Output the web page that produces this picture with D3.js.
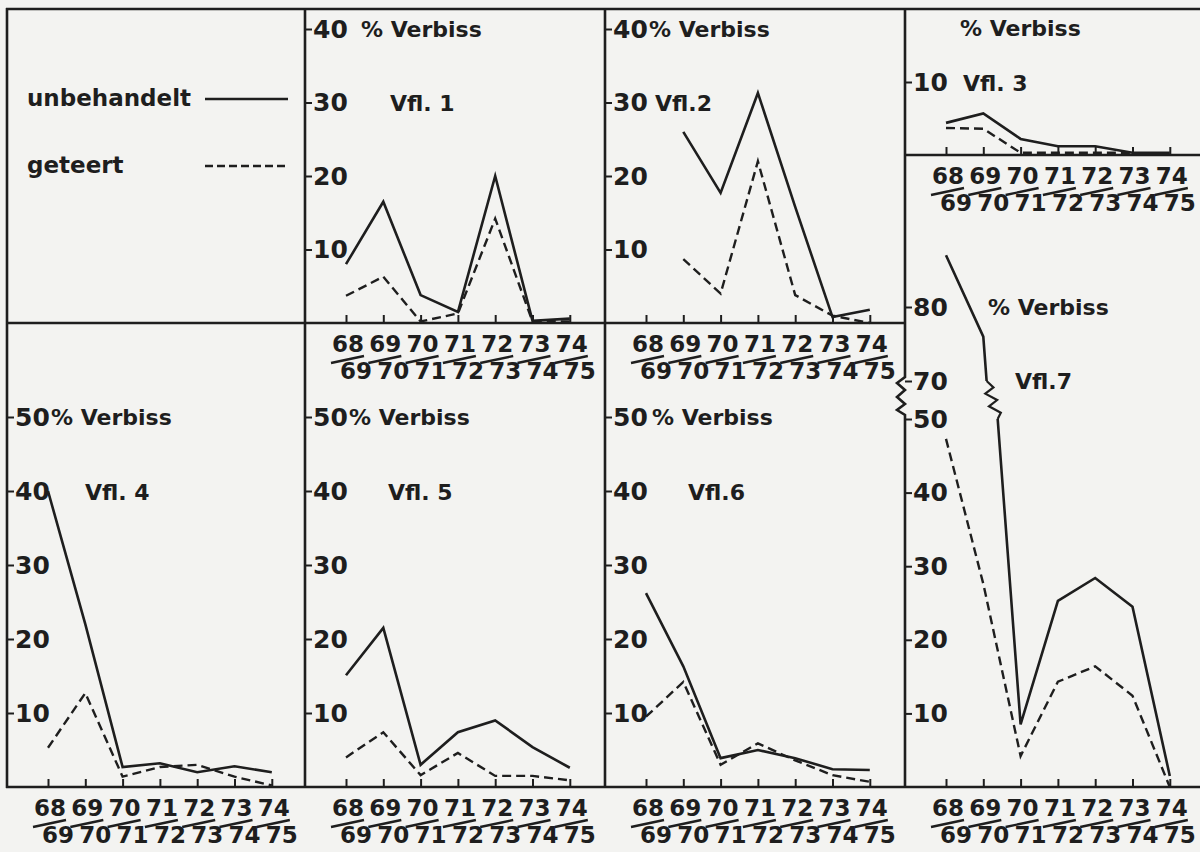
<!DOCTYPE html>
<html><head><meta charset="utf-8">
<script src="https://cdn.jsdelivr.net/npm/d3@7"></script>
<style>
body{margin:0;background:#f3f3f1}
svg{display:block}
text{font-family:"DejaVu Sans",sans-serif;font-weight:bold;fill:#1e1e1e}
</style>
</head><body>
<svg id="c" width="1200" height="852"></svg>
<script>
// ---------- data ----------
const categories = ["68/69","69/70","70/71","71/72","72/73","73/74","74/75"];
const topLabels = ["68","69","70","71","72","73","74"];
const bottomLabels = ["69","70","71","72","73","74","75"];
const seriesNames = ["unbehandelt","geteert"];

const vfl1Unbehandelt = [8, 16.5, 3.8, 1.5, 20, 0.3, 0.6];
const vfl1Geteert     = [3.7, 6.3, 0.2, 1.3, 14.2, 0.2, 0.2];
const vfl2Unbehandelt = [null, 26, 17.7, 31.3, 15.8, 0.8, 1.8];
const vfl2Geteert     = [null, 8.7, 4, 22, 3.8, 1, 0];
const vfl3Unbehandelt = [4.4, 5.7, 2.2, 1.2, 1.2, 0.3, 0.3];
const vfl3Geteert     = [3.7, 3.6, 0.3, 0.3, 0.3, 0.3, null];
const vfl4Unbehandelt = [40, 22, 2.7, 3.2, 2, 2.8, 2];
const vfl4Geteert     = [5.3, 12.7, 1.4, 2.7, 3, 1.4, 0.2];
const vfl5Unbehandelt = [15.1, 21.5, 3, 7.4, 9, 5.4, 2.6];
const vfl5Geteert     = [4, 7.4, 1.6, 4.6, 1.5, 1.5, 0.9];
const vfl6Unbehandelt = [26.2, 16.3, 3.9, 5, 3.9, 2.4, 2.3];
const vfl6Geteert     = [9.5, 14.2, 3, 5.9, 3.6, 1.6, 0.7];
const vfl7Unbehandelt = [87, 76, 8.5, 25.3, 28.4, 24.5, 1.5];
const vfl7Geteert     = [47.3, 27.6, 4.2, 14.3, 16.4, 12.4, 0];

const ticksTop = [10, 20, 30, 40];
const ticksVfl3 = [10];
const ticksBottom = [10, 20, 30, 40, 50];
const ticksVfl7 = [10, 20, 30, 40, 50, 70, 80];
const breakLow = 50, breakHigh = 70;

// ---------- layout ----------
const panels = [
  {name:"Vfl. 1", un:vfl1Unbehandelt, ge:vfl1Geteert, left:305, base:323, dom:[0,40], rng:[323,29], ticks:ticksTop, verbiss:[361,29], label:[390,103]},
  {name:"Vfl.2", un:vfl2Unbehandelt, ge:vfl2Geteert, left:605, base:323, dom:[0,40], rng:[323,29], ticks:ticksTop, verbiss:[649,29], label:[655,103]},
  {name:"Vfl. 3", un:vfl3Unbehandelt, ge:vfl3Geteert, left:905, base:155, dom:[0,10], rng:[155,82], ticks:ticksVfl3, verbiss:[960,28], label:[963,83]},
  {name:"Vfl. 4", un:vfl4Unbehandelt, ge:vfl4Geteert, left:7, base:787, dom:[0,50], rng:[787,417], ticks:ticksBottom, verbiss:[51,417], label:[85,492]},
  {name:"Vfl. 5", un:vfl5Unbehandelt, ge:vfl5Geteert, left:305, base:787, dom:[0,50], rng:[787,417], ticks:ticksBottom, verbiss:[349,417], label:[388,492]},
  {name:"Vfl.6", un:vfl6Unbehandelt, ge:vfl6Geteert, left:605, base:787, dom:[0,50], rng:[787,417], ticks:ticksBottom, verbiss:[652,417], label:[688,492]},
  {name:"Vfl.7", un:vfl7Unbehandelt, ge:vfl7Geteert, left:905, base:787, dom:[0,breakLow,breakHigh,80], rng:[787,419,381,307], ticks:ticksVfl7, verbiss:[988,307], label:[1015,381], broken:true}
];

const svg = d3.select("#c");
const ink = "#1e1e1e";

// frame
const frame = svg.append("g").attr("stroke", ink).attr("stroke-width", 2.6).attr("fill","none");
frame.append("line").attr("x1",6).attr("x2",1200).attr("y1",9).attr("y2",9);
frame.append("line").attr("x1",7).attr("x2",7).attr("y1",8).attr("y2",788);
frame.append("line").attr("x1",305).attr("x2",305).attr("y1",8).attr("y2",788);
frame.append("line").attr("x1",605).attr("x2",605).attr("y1",8).attr("y2",788);
frame.append("line").attr("x1",6).attr("x2",905).attr("y1",323).attr("y2",323);
frame.append("line").attr("x1",905).attr("x2",1200).attr("y1",155).attr("y2",155);
frame.append("line").attr("x1",6).attr("x2",1200).attr("y1",787).attr("y2",787);

const y7 = d3.scaleLinear().domain(panels[6].dom).range(panels[6].rng);
const yb1 = y7(breakHigh) - 4, yb2 = y7(breakLow) - 4;
frame.append("path").attr("d", d3.line()([[905,8],[905,yb1],[897,yb1+6],[905,yb1+13],[897,yb1+20],[905,yb1+27],[897,yb1+33],[905,yb2],[905,788]]))
  .attr("stroke-linejoin","miter");

// legend
svg.append("text").attr("x",27).attr("y",106).attr("font-size",23).text(seriesNames[0]);
svg.append("text").attr("x",27).attr("y",173).attr("font-size",23).text(seriesNames[1]);
svg.append("line").attr("x1",205).attr("x2",288).attr("y1",99).attr("y2",99).attr("stroke",ink).attr("stroke-width",2.4);
svg.append("line").attr("x1",205).attr("x2",288).attr("y1",166).attr("y2",166).attr("stroke",ink).attr("stroke-width",2.4).attr("stroke-dasharray","8,4");

function zig(a, b) {
  const pts = [];
  const n = 6, amp = 5;
  for (let k = 0; k <= n; k++) {
    const t = k / n;
    const off = (k === 0 || k === n) ? 0 : (k % 2 ? amp : -amp);
    pts.push([a[0] + (b[0]-a[0])*t + off, a[1] + (b[1]-a[1])*t]);
  }
  return pts;
}

panels.forEach(p => {
  const g = svg.append("g");
  const x = d3.scalePoint().domain(categories).range([p.left+41, p.left+41+6*37.3]);
  const y = d3.scaleLinear().domain(p.dom).range(p.rng);

  // y axis ticks + labels
  const ya = g.append("g").attr("transform", `translate(${p.left},0)`)
    .call(d3.axisRight(y).tickValues(p.ticks).tickSize(7).tickPadding(1).tickFormat(d3.format("d")));
  ya.select(".domain").remove();
  ya.selectAll("line").attr("stroke", ink).attr("stroke-width", 2);
  ya.selectAll("text").attr("font-size", 25).attr("fill", ink).style("font-family","DejaVu Sans").style("font-weight","bold");

  // x axis ticks
  const xa = g.append("g").attr("transform", `translate(0,${p.base})`)
    .call(d3.axisTop(x).tickSize(8).tickFormat(""));
  xa.select(".domain").remove();
  xa.selectAll("line").attr("stroke", ink).attr("stroke-width", 2);

  // fraction labels
  categories.forEach((c, i) => {
    const cx = x(c);
    g.append("text").attr("x", cx+2).attr("y", p.base+29).attr("text-anchor","middle").attr("font-size",23).text(topLabels[i]);
    g.append("line").attr("x1", cx-15).attr("y1", p.base+40).attr("x2", cx+18).attr("y2", p.base+33)
      .attr("stroke", ink).attr("stroke-width", 2.4);
    g.append("text").attr("x", cx+10).attr("y", p.base+56).attr("text-anchor","middle").attr("font-size",23).text(bottomLabels[i]);
  });

  // texts
  g.append("text").attr("x", p.verbiss[0]).attr("y", p.verbiss[1]).attr("dy","0.36em").attr("font-size",22).text("% Verbiss");
  g.append("text").attr("x", p.label[0]).attr("y", p.label[1]).attr("dy","0.36em").attr("font-size",22).text(p.name);

  // lines
  const line = d3.line();
  [["un", null, 2.6], ["ge", "9,5", 2.4]].forEach(([key, dash, w]) => {
    const vals = p[key];
    const pieces = []; let cur = [];
    const zigs = [];
    for (let i = 0; i < vals.length; i++) {
      if (vals[i] == null) { if (cur.length) pieces.push(cur); cur = []; continue; }
      const pt = [x(categories[i]), y(vals[i])];
      if (cur.length && p.broken && i > 0 && vals[i-1] != null) {
        const a = vals[i-1], b = vals[i];
        if ((a > breakHigh && b < breakLow) || (a < breakLow && b > breakHigh)) {
          const x0 = x(categories[i-1]), x1 = x(categories[i]);
          const tH = (a - breakHigh) / (a - b), tL = (a - breakLow) / (a - b);
          const pH = [x0 + (x1-x0)*tH, y(breakHigh)], pL = [x0 + (x1-x0)*tL, y(breakLow)];
          const first = a > b ? pH : pL, second = a > b ? pL : pH;
          cur.push(first); pieces.push(cur);
          zigs.push(zig(first, second));
          cur = [second];
        }
      }
      cur.push(pt);
    }
    if (cur.length) pieces.push(cur);
    pieces.forEach(pc => {
      g.append("path").attr("d", line(pc)).attr("fill","none").attr("stroke", ink)
        .attr("stroke-width", w).attr("stroke-dasharray", dash).attr("stroke-linejoin","miter");
    });
    zigs.forEach(z => {
      g.append("path").attr("d", line(z)).attr("fill","none").attr("stroke", ink).attr("stroke-width", 2.2);
    });
  });
});
</script>
</body></html>
